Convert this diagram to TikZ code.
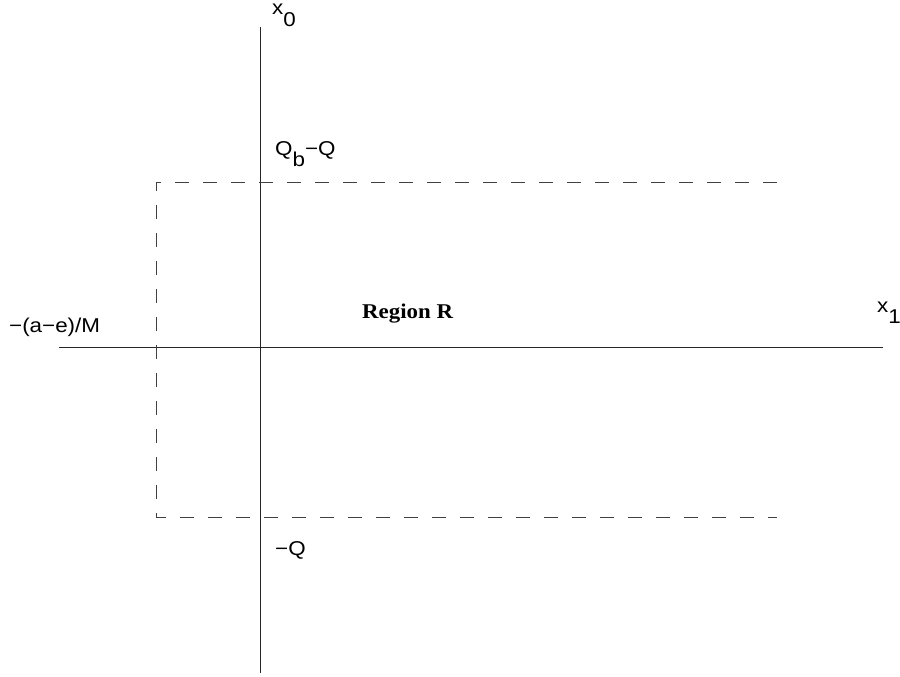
\documentclass[tikz,border=0pt]{standalone}
\usepackage{fontspec}
\setmainfont{Liberation Sans}
\newfontfamily\lbfont[FakeStretch=1.12]{Liberation Sans}
\newfontfamily\timesbf[FakeStretch=1.09]{Liberation Serif}
\newcommand{\sbs}[1]{\raisebox{-11.5pt}{#1}}
\begin{document}
\begin{tikzpicture}[x=1pt,y=-1pt,
  lbl/.style={inner sep=0pt,anchor=base west,font=\lbfont\fontsize{20}{22}\selectfont},
  dsh/.style={line width=0.9pt,draw=black!75,dash pattern=on 14pt off 14pt},
  ax/.style={line width=1pt,draw=black!85}]
\useasboundingbox (0,0) rectangle (900,677);
\coordinate (yt) at (260,27);
\coordinate (yb) at (260,673);
\coordinate (xl) at (59,347);
\coordinate (xr) at (883,347);
\coordinate (tl) at (156,182);
\coordinate (tr) at (777,182);
\coordinate (bl) at (156,517);
\coordinate (br) at (777,517);
\draw[ax] (yt) -- (yb);
\draw[ax] (xl) -- (xr);
\draw[dsh] (tr) -- (tl) -- (bl) -- (br);
\node[lbl] (x0) at (272,15) {x\sbs{0}};
\node[lbl] (qb) at (275,155) {Q\sbs{b}−Q};
\node[lbl] (ae) at (9,332) {−(a−e)/M};
\node[inner sep=0pt,anchor=base west,font=\timesbf\bfseries\fontsize{21}{23}\selectfont] (rr) at (362,318) {Region R};
\node[lbl] (x1) at (877,312) {x\sbs{1}};
\node[lbl] (mq) at (275,555) {−Q};
\end{tikzpicture}
\end{document}
